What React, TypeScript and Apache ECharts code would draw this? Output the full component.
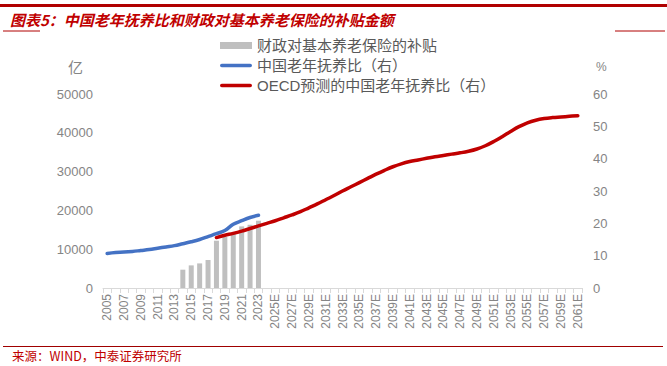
import React, { useEffect, useRef } from "react";
import * as echarts from "echarts";

const years: string[] = [];
for (let y = 2005; y <= 2061; y++) years.push(y >= 2025 ? `${y}E` : `${y}`);

// 财政对基本养老保险的补贴 (亿元), 2014-2023
const subsidyYears = ["2014", "2015", "2016", "2017", "2018", "2019", "2020", "2021", "2022", "2023"];
const subsidyValues = [4720, 5830, 6340, 7220, 12190, 13140, 14170, 15880, 16300, 17340];

// 中国老年抚养比 (%), 2005-2023
const ratioYears = ["2005", "2006", "2007", "2008", "2009", "2010", "2011", "2012", "2013", "2014", "2015", "2016", "2017", "2018", "2019", "2020", "2021", "2022", "2023"];
const ratioValues = [10.7, 11.0, 11.1, 11.3, 11.6, 11.9, 12.3, 12.7, 13.1, 13.7, 14.3, 15.0, 15.9, 16.8, 17.8, 19.7, 20.8, 21.8, 22.5];

// OECD预测的中国老年抚养比 (%), 2018-2061
const oecdStart = 2018;
const oecdValues = [15.6, 16.3, 16.9, 17.6, 18.4, 19.2, 20.0, 20.8, 21.7, 22.6, 23.6, 24.8, 26.0, 27.3, 28.6, 30.0, 31.3, 32.6, 33.9, 35.2, 36.4, 37.5, 38.4, 39.1, 39.6, 40.1, 40.6, 41.0, 41.4, 41.8, 42.3, 43.0, 44.0, 45.3, 46.8, 48.4, 49.9, 51.1, 51.9, 52.4, 52.7, 52.9, 53.1, 53.3];

const leftTicks = { min: 0, max: 50000, interval: 10000 };
const rightTicks = { min: 0, max: 60, interval: 10 };

const names = ["财政对基本养老保险的补贴", "中国老年抚养比（右）", "OECD预测的中国老年抚养比（右）"];
const title = "图表5：中国老年抚养比和财政对基本养老保险的补贴金额";
const source = "来源：WIND，中泰证券研究所";

const FONT = "'Liberation Sans', 'Noto Sans CJK SC', sans-serif";
const CJK = "'Noto Sans CJK SC', sans-serif";

export default function App() {
  const ref = useRef<HTMLDivElement>(null);
  useEffect(() => {
    if (!ref.current) return;
    const chart = echarts.init(ref.current, null, { renderer: "svg" });

    const barData = years.map((y) => {
      const i = subsidyYears.indexOf(y);
      return i >= 0 ? subsidyValues[i] : null;
    });
    const ratioData = years.map((y) => {
      const i = ratioYears.indexOf(y);
      return i >= 0 ? ratioValues[i] : null;
    });
    const oecdData = years.map((y, idx) => {
      const yr = 2005 + idx;
      const i = yr - oecdStart;
      return i >= 0 && i < oecdValues.length ? oecdValues[i] : null;
    });

    const lineIcon = "path://M2,0 L34,0 A2,2 0 0 1 34,4 L2,4 A2,2 0 0 1 2,0 Z";

    chart.setOption({
      animation: false,
      textStyle: { fontFamily: FONT },
      grid: { left: 103, right: 85, top: 94, bottom: 78, containLabel: false },
      legend: {
        orient: "vertical",
        left: 215,
        top: 33,
        itemWidth: 32,
        itemHeight: 7,
        itemGap: 5,
        textStyle: { fontSize: 15, color: "#595959", fontFamily: FONT },
        data: [
          { name: names[0], icon: "rect", itemStyle: { color: "#bfbfbf" } },
          { name: names[1], icon: lineIcon, itemStyle: { color: "#4472c4" } },
          { name: names[2], icon: lineIcon, itemStyle: { color: "#c00000" } },
        ],
      },
      xAxis: {
        type: "category",
        data: years,
        boundaryGap: true,
        axisLine: { show: true, lineStyle: { color: "#d9d9d9", width: 1 } },
        axisTick: { show: true, interval: 0, length: 5, lineStyle: { color: "#d9d9d9" } },
        axisLabel: { interval: 1, rotate: 90, fontSize: 12, color: "#858585", margin: 6, fontFamily: FONT },
        splitLine: { show: false },
      },
      yAxis: [
        {
          type: "value",
          ...leftTicks,
          axisLine: { show: false },
          axisTick: { show: false },
          splitLine: { show: false },
          axisLabel: { fontSize: 13, color: "#858585", margin: 10, fontFamily: FONT, formatter: (v: number) => String(v) },
        },
        {
          type: "value",
          ...rightTicks,
          position: "right",
          axisLine: { show: false },
          axisTick: { show: false },
          splitLine: { show: false },
          axisLabel: { fontSize: 13, color: "#858585", margin: 11, fontFamily: FONT },
        },
      ],
      series: [
        {
          name: names[0],
          type: "bar",
          yAxisIndex: 0,
          data: barData,
          barWidth: 5,
          itemStyle: { color: "#bfbfbf" },
        },
        {
          name: names[1],
          type: "line",
          yAxisIndex: 1,
          data: ratioData,
          smooth: 0.4,
          showSymbol: false,
          connectNulls: false,
          lineStyle: { color: "#4472c4", width: 3.5, cap: "round" },
          itemStyle: { color: "#4472c4" },
        },
        {
          name: names[2],
          type: "line",
          yAxisIndex: 1,
          data: oecdData,
          smooth: 0.4,
          showSymbol: false,
          lineStyle: { color: "#c00000", width: 3.5, cap: "round" },
          itemStyle: { color: "#c00000" },
        },
      ],
      graphic: [
        { type: "rect", shape: { x: 0, y: 4, width: 667, height: 3 }, style: { fill: "#b00000" } },
        {
          type: "text",
          left: 10,
          top: 12,
          style: {
            text: title,
            fill: "#c00000",
            fontSize: 15,
            fontWeight: "bold",
            fontStyle: "italic",
            fontFamily: CJK,
          },
        },
        { type: "line", shape: { x1: 3, y1: 31, x2: 40, y2: 31 }, style: { stroke: "#b00000", lineWidth: 1 } },
        { type: "line", shape: { x1: 615, y1: 31, x2: 665, y2: 31 }, style: { stroke: "#b00000", lineWidth: 1 } },
        {
          type: "text",
          left: 68,
          top: 59,
          style: { text: "亿", fill: "#858585", fontSize: 15, fontFamily: CJK },
        },
        {
          type: "text",
          left: 596,
          top: 61,
          style: { text: "%", fill: "#858585", fontSize: 12, fontFamily: FONT },
        },
        { type: "line", shape: { x1: 3, y1: 346.5, x2: 663, y2: 346.5 }, style: { stroke: "#a00000", lineWidth: 1 } },
        {
          type: "text",
          left: 12,
          top: 349,
          style: { text: source, fill: "#c00000", fontSize: 12.5, fontFamily: CJK },
        },
      ],
    });
    return () => chart.dispose();
  }, []);
  return (
    <div
      ref={ref}
      style={{ position: "fixed", left: 0, top: 0, width: 667, height: 366, background: "#fff" }}
    />
  );
}
